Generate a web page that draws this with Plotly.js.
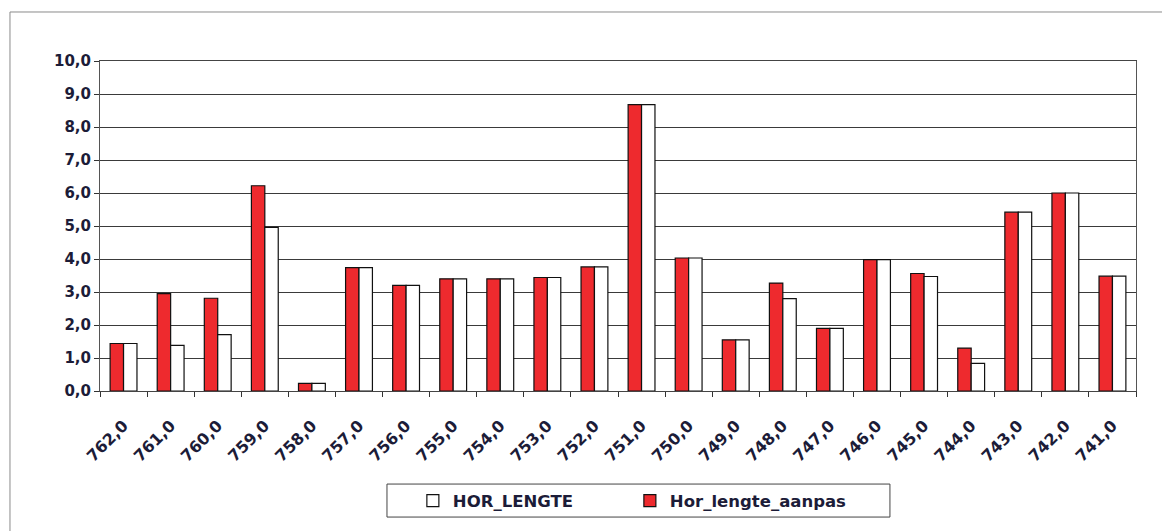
<!DOCTYPE html>
<html>
<head>
<meta charset="utf-8">
<script src="https://cdn.plot.ly/plotly-3.0.1.min.js"></script>
<style>
html,body{margin:0;padding:0;background:#fff;}
#chart{width:1162px;height:531px;}
</style>
</head>
<body>
<div id="chart"></div>
<script>
const categories = ["762,0","761,0","760,0","759,0","758,0","757,0","756,0","755,0","754,0","753,0","752,0","751,0","750,0","749,0","748,0","747,0","746,0","745,0","744,0","743,0","742,0","741,0"];
const horLengteAanpas = [1.44,2.95,2.81,6.22,0.23,3.74,3.2,3.4,3.4,3.44,3.76,8.68,4.03,1.55,3.27,1.9,3.98,3.56,1.3,5.42,6.0,3.48];
const horLengte =       [1.44,1.38,1.71,4.96,0.23,3.74,3.2,3.4,3.4,3.44,3.76,8.68,4.03,1.55,2.8,1.9,3.98,3.47,0.84,5.42,6.0,3.48];
const yTicks = [0,1,2,3,4,5,6,7,8,9,10];

const fontFam = "'DejaVu Sans', Verdana, sans-serif";
const textCol = "#1c1c38";

const traces = [
  {
    type: "bar", name: "Hor_lengte_aanpas", x: categories, y: horLengteAanpas,
    marker: {color: "#ee2a2e", line: {color: "#111", width: 1.2}}
  },
  {
    type: "bar", name: "HOR_LENGTE", x: categories, y: horLengte,
    marker: {color: "#ffffff", line: {color: "#111", width: 1.2}}
  }
];

const layout = {
  width: 1162, height: 531,
  margin: {l: 100, r: 26, t: 61, b: 140},
  paper_bgcolor: "#fff", plot_bgcolor: "#fff",
  barmode: "group", bargap: 0.43, bargroupgap: 0,
  separators: ",.",
  showlegend: true,
  legend: {
    orientation: "h", traceorder: "reversed",
    x: 0.302, y: -0.333, xanchor: "left", yanchor: "middle",
    bgcolor: "rgba(0,0,0,0)", borderwidth: 0,
    entrywidth: 172, entrywidthmode: "pixels",
    font: {family: fontFam, size: 16.5, color: textCol, weight: "bold"},
    itemwidth: 30
  },
  xaxis: {
    type: "category",
    tickangle: -45,
    tickson: "boundaries",
    ticks: "outside", ticklen: 5, tickcolor: "#333",
    ticklabelstandoff: 18,
    showline: true, linecolor: "#444", linewidth: 1, mirror: true,
    showgrid: false,
    tickfont: {family: fontFam, size: 16, color: textCol, weight: "bold"}
  },
  yaxis: {
    range: [0, 10],
    tickvals: yTicks,
    tickformat: ".1f",
    ticks: "outside", ticklen: 5, tickcolor: "#333",
    showline: true, linecolor: "#555", linewidth: 1, mirror: true,
    showgrid: true, gridcolor: "#3a3a3a", gridwidth: 1,
    zeroline: false,
    tickfont: {family: fontFam, size: 15, color: textCol, weight: "bold"}
  },
  shapes: [
    {type: "rect", xref: "paper", yref: "paper",
     x0: -0.0869, x1: 1.2, y0: -0.6, y1: 1.1485,
     line: {color: "#8a8a8a", width: 1}, fillcolor: "rgba(0,0,0,0)", layer: "below"},
    {type: "rect", xref: "paper", yref: "paper",
     x0: 0.277, x1: 0.7625, y0: -0.382, y1: -0.282,
     line: {color: "#444", width: 1}, fillcolor: "rgba(0,0,0,0)", layer: "below"}
  ]
};

Plotly.newPlot("chart", traces, layout, {displayModeBar: false, staticPlot: true});
</script>
</body>
</html>
